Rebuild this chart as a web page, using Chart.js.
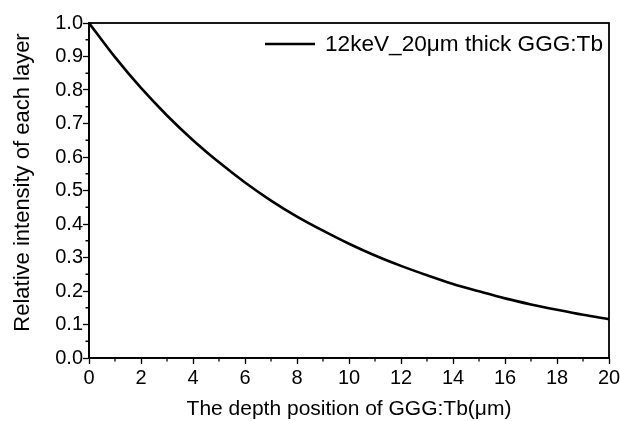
<!DOCTYPE html>
<html>
<head>
<meta charset="utf-8">
<script src="https://cdn.jsdelivr.net/npm/chart.js@4/dist/chart.umd.min.js"></script>
<style>
  html, body { margin: 0; padding: 0; background: #fff; }
  #wrap { width: 620px; height: 421px; }
</style>
</head>
<body>
<div id="wrap"><canvas id="intensityChart" width="620" height="421"></canvas></div>
<script>
// depth through the GGG:Tb layer (µm) and relative intensity at that depth
const depthUm = [0, 1, 2, 3, 4, 5, 6, 7, 8, 9, 10, 11, 12, 13, 14, 15, 16, 17, 18, 19, 20];
const intensity = [1.0, 0.898, 0.806, 0.724, 0.65, 0.584, 0.524, 0.47, 0.422, 0.38, 0.341,
                   0.306, 0.275, 0.247, 0.221, 0.199, 0.178, 0.16, 0.144, 0.129, 0.116];
const seriesLabel = '12keV_20\u03bcm thick GGG:Tb';
const xTitle = 'The depth position of GGG:Tb(\u03bcm)';
const yTitle = 'Relative intensity of each layer';
const xRange = [0, 20];
const yRange = [0, 1.0];

const FONT = 'Arial, "Liberation Sans", sans-serif';

// frame, minor ticks, axis titles and the in-plot legend
const framePlugin = {
    id: 'frame',
    afterDraw(chart) {
        const { ctx, chartArea: a, scales } = chart;
        ctx.save();
        ctx.strokeStyle = '#000';
        ctx.lineWidth = 1.8;
        ctx.strokeRect(a.left, a.top, a.right - a.left, a.bottom - a.top);

        // minor ticks between the labelled ones
        ctx.lineWidth = 1.3;
        ctx.beginPath();
        for (let v = xRange[0] + 1; v < xRange[1]; v += 2) {
            const px = scales.x.getPixelForValue(v);
            ctx.moveTo(px, a.bottom);
            ctx.lineTo(px, a.bottom + 3.5);
        }
        for (let v = yRange[0] + 0.05; v < yRange[1]; v += 0.1) {
            const py = scales.y.getPixelForValue(v);
            ctx.moveTo(a.left, py);
            ctx.lineTo(a.left - 3.5, py);
        }
        ctx.stroke();

        ctx.fillStyle = '#000';
        ctx.textAlign = 'center';
        ctx.textBaseline = 'middle';

        // x axis title
        ctx.font = '21px ' + FONT;
        ctx.fillText(xTitle, (a.left + a.right) / 2, 409);

        // y axis title, rotated, sits a little above the plot centre
        ctx.save();
        ctx.translate(23, (a.top + a.bottom) / 2 - 8);
        ctx.rotate(-Math.PI / 2);
        ctx.font = '22px ' + FONT;
        ctx.fillText(yTitle, 0, 0);
        ctx.restore();

        // legend
        const ly = a.top + 21;
        ctx.lineWidth = 2.6;
        ctx.beginPath();
        ctx.moveTo(a.right - 344, ly);
        ctx.lineTo(a.right - 294, ly);
        ctx.stroke();
        ctx.font = '22.6px ' + FONT;
        ctx.textAlign = 'left';
        ctx.fillText(seriesLabel, a.right - 284, ly + 1);
        ctx.restore();
    }
};

new Chart(document.getElementById('intensityChart'), {
    type: 'line',
    data: {
        datasets: [{
            label: seriesLabel,
            data: depthUm.map((d, i) => ({ x: d, y: intensity[i] })),
            borderColor: '#000',
            borderWidth: 2.6,
            pointRadius: 0,
            cubicInterpolationMode: 'monotone',
            fill: false
        }]
    },
    options: {
        responsive: false,
        animation: false,
        layout: { padding: { top: 23, right: 11, left: 0, bottom: 0 } },
        plugins: {
            legend: { display: false },
            tooltip: { enabled: false }
        },
        scales: {
            x: {
                type: 'linear',
                min: xRange[0],
                max: xRange[1],
                afterFit(scale) {
                    scale.height = 63;
                    scale.paddingRight = 0;
                    scale.paddingLeft = 0;
                },
                ticks: {
                    stepSize: 2,
                    color: '#000',
                    font: { family: FONT, size: 20 },
                    padding: 2,
                    maxRotation: 0
                },
                grid: {
                    drawOnChartArea: false,
                    color: '#000',
                    tickLength: 6,
                    tickWidth: 1.3
                },
                border: { color: '#000', width: 1.8 }
            },
            y: {
                min: yRange[0],
                max: yRange[1],
                afterFit(scale) {
                    scale.width = 89;
                    scale.paddingTop = 0;
                    scale.paddingBottom = 0;
                },
                ticks: {
                    stepSize: 0.1,
                    color: '#000',
                    font: { family: FONT, size: 20 },
                    padding: 0,
                    callback: v => v.toFixed(1)
                },
                grid: {
                    drawOnChartArea: false,
                    color: '#000',
                    tickLength: 6,
                    tickWidth: 1.3
                },
                border: { color: '#000', width: 1.8 }
            }
        }
    },
    plugins: [framePlugin]
});
</script>
</body>
</html>
